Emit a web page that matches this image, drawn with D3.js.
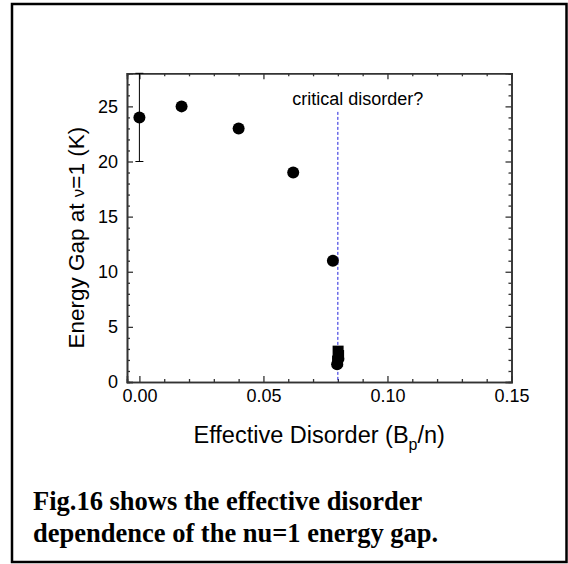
<!DOCTYPE html>
<html>
<head>
<meta charset="utf-8">
<script src="https://cdn.jsdelivr.net/npm/d3@7"></script>
<style>
    body { margin: 0; background: #fff; }
    svg { display: block; }
    text { font-family: "Liberation Sans", Arial, sans-serif; fill: #000; }
    .axis path, .axis line { stroke: #333; }
    .axis text { font-size: 18px; font-family: "Liberation Sans", Arial, sans-serif; }
    .caption { font-family: "Liberation Serif", "Times New Roman", serif; font-weight: bold; font-size: 26.5px; }
</style>
</head>
<body>
<script>
// data
var circleX = [0.000, 0.017, 0.040, 0.062, 0.078, 0.0797, 0.0802];
var circleY = [24, 25, 23, 19, 11, 1.6, 2.1];
var squareX = [0.0801, 0.0803, 0.0799];
var squareY = [2.8, 2.4, 1.9];
var errX = [0.000];
var errLo = [20];
var errHi = [28];
var criticalX = 0.08;
var criticalTop = 24.5;
var xTicks = [0, 0.05, 0.10, 0.15];
var yTicks = [0, 5, 10, 15, 20, 25];

var W = 568, H = 564;
var LEFT = 127, RIGHT = 511.5, TOP = 73.3, BOTTOM = 382;

var svg = d3.select('body').append('svg')
    .attr('width', W)
    .attr('height', H);

// outer frame
svg.append('rect')
    .attr('x', 12).attr('y', 4)
    .attr('width', 554.5).attr('height', 558)
    .attr('fill', 'none')
    .attr('stroke', '#000')
    .attr('stroke-width', 2.5);

var x = d3.scaleLinear().domain([-0.005, 0.15]).range([LEFT, RIGHT]);
var y = d3.scaleLinear().domain([0, 28]).range([BOTTOM, TOP]);

var xMinor = d3.range(0, 0.1501, 0.01).filter(function (v) {
    return xTicks.every(function (t) { return Math.abs(t - v) > 1e-6; });
});
var yMinor = d3.range(0, 28.01, 1).filter(function (v) { return v % 5 !== 0; });

function styleAxis(g) {
    g.attr('class', 'axis');
    g.select('.domain').attr('stroke-width', 1.6);
    g.selectAll('.tick line').attr('stroke-width', 1.3);
    return g;
}

// minor ticks, all four sides, pointing inward
svg.append('g').attr('transform', 'translate(0,' + BOTTOM + ')')
    .call(d3.axisBottom(x).tickValues(xMinor).tickSize(-3).tickFormat(''))
    .call(styleAxis);
svg.append('g').attr('transform', 'translate(0,' + TOP + ')')
    .call(d3.axisTop(x).tickValues(xMinor).tickSize(-3).tickFormat(''))
    .call(styleAxis);
svg.append('g').attr('transform', 'translate(' + LEFT + ',0)')
    .call(d3.axisLeft(y).tickValues(yMinor).tickSize(-3).tickFormat(''))
    .call(styleAxis);
svg.append('g').attr('transform', 'translate(' + RIGHT + ',0)')
    .call(d3.axisRight(y).tickValues(yMinor).tickSize(-3).tickFormat(''))
    .call(styleAxis);

// major ticks
svg.append('g').attr('transform', 'translate(0,' + BOTTOM + ')')
    .call(d3.axisBottom(x).tickValues(xTicks).tickSize(-6).tickPadding(7)
        .tickFormat(d3.format('.2f')))
    .call(styleAxis);
svg.append('g').attr('transform', 'translate(0,' + TOP + ')')
    .call(d3.axisTop(x).tickValues(xTicks).tickSize(-6).tickFormat(''))
    .call(styleAxis);
svg.append('g').attr('transform', 'translate(' + LEFT + ',0)')
    .call(d3.axisLeft(y).tickValues(yTicks).tickSize(-6).tickPadding(9))
    .call(styleAxis);
svg.append('g').attr('transform', 'translate(' + RIGHT + ',0)')
    .call(d3.axisRight(y).tickValues(yTicks).tickSize(-6).tickFormat(''))
    .call(styleAxis);

// critical disorder marker
svg.append('line')
    .attr('x1', x(criticalX)).attr('x2', x(criticalX))
    .attr('y1', y(criticalTop)).attr('y2', y(0))
    .attr('stroke', '#2222dd')
    .attr('stroke-width', 1)
    .attr('stroke-dasharray', '3,2');

svg.append('text')
    .attr('x', x(criticalX) + 20)
    .attr('y', 105)
    .attr('text-anchor', 'middle')
    .style('font-size', '18px')
    .text('critical disorder?');

// error bars
errX.forEach(function (ex, i) {
    svg.append('line')
        .attr('x1', x(ex)).attr('x2', x(ex))
        .attr('y1', y(errLo[i])).attr('y2', y(errHi[i]))
        .attr('stroke', '#000').attr('stroke-width', 1);
    [errLo[i], errHi[i]].forEach(function (v) {
        svg.append('line')
            .attr('x1', x(ex) - 4).attr('x2', x(ex) + 4)
            .attr('y1', y(v)).attr('y2', y(v))
            .attr('stroke', '#000').attr('stroke-width', 1);
    });
});

// markers
svg.append('g').selectAll('circle')
    .data(d3.range(circleX.length))
    .enter().append('circle')
    .attr('cx', function (i) { return x(circleX[i]); })
    .attr('cy', function (i) { return y(circleY[i]); })
    .attr('r', 6)
    .attr('fill', '#000');

svg.append('g').selectAll('rect')
    .data(d3.range(squareX.length))
    .enter().append('rect')
    .attr('x', function (i) { return x(squareX[i]) - 5.5; })
    .attr('y', function (i) { return y(squareY[i]) - 5.5; })
    .attr('width', 11).attr('height', 11)
    .attr('fill', '#000');

// axis titles
svg.append('text')
    .attr('transform', 'translate(84,' + ((TOP + BOTTOM) / 2 + 10) + ') rotate(-90)')
    .attr('text-anchor', 'middle')
    .style('font-size', '22.5px')
    .call(function (t) {
        t.append('tspan').text('Energy Gap at ');
        t.append('tspan').style('font-size', '17px').text('ν');
        t.append('tspan').text('=1 (K)');
    });

var xTitle = svg.append('text')
    .attr('x', (LEFT + RIGHT) / 2)
    .attr('y', 443)
    .attr('text-anchor', 'middle')
    .style('font-size', '23.5px');
xTitle.append('tspan').text('Effective Disorder (B');
xTitle.append('tspan').attr('dy', 7).style('font-size', '16px').text('p');
xTitle.append('tspan').attr('dy', -7).text('/n)');

// caption
svg.append('text').attr('class', 'caption')
    .attr('x', 33).attr('y', 510)
    .text('Fig.16 shows the effective disorder');
svg.append('text').attr('class', 'caption')
    .attr('x', 33).attr('y', 542)
    .text('dependence of the nu=1 energy gap.');
</script>
</body>
</html>
